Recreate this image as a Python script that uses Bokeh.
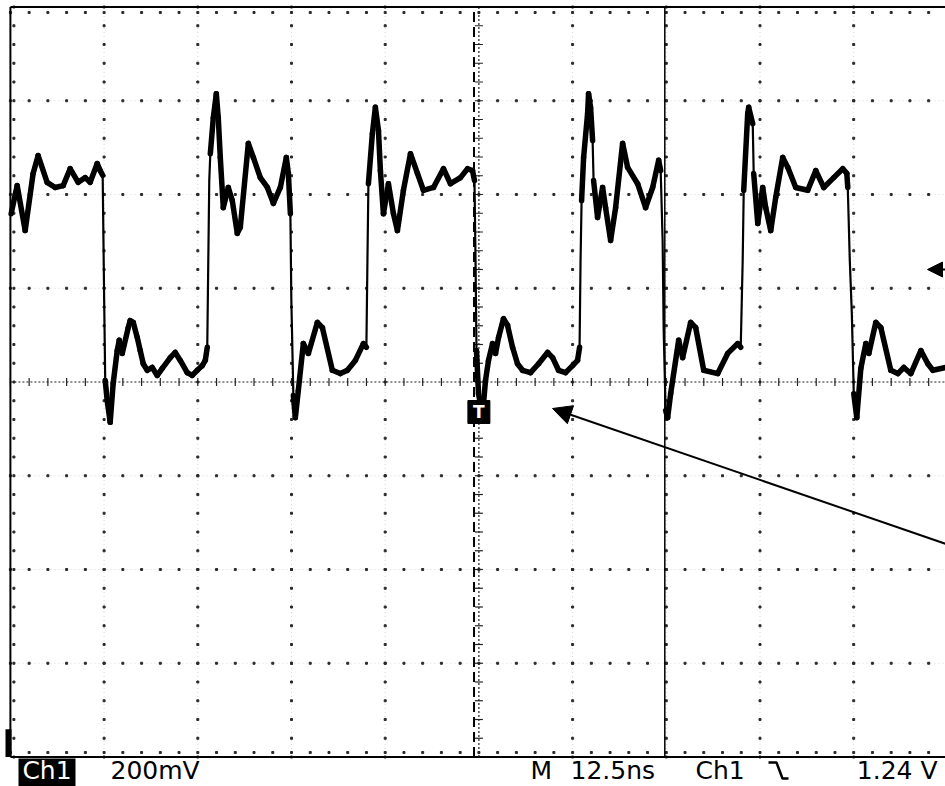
import numpy as np
from bokeh.plotting import figure
from bokeh.models import Range1d, Arrow, NormalHead, Label
from bokeh.embed import file_html
from bokeh.resources import INLINE

# ---------------- scope settings ----------------
T_PER_DIV = 12.5      # ns / div
V_PER_DIV = 0.2       # V / div
V_CENTER = 1.0        # V at centre graticule line
N_HDIV = 10
N_VDIV = 8
TRIG_LEVEL = 1.24     # V
CURSOR_T = 24.8       # ns, solid vertical cursor
TRIG_POS_T = -0.65    # ns, dashed trigger-position line
TRIG_MARK_V = 0.936   # V, trigger "T" marker
GROUND_MARK_V = (0.2, 0.259)

# ---------------- waveform (Ch1) ----------------
t_ns = [
    -62.40, -61.60, -60.53, -59.47, -58.80, -57.60, -56.53, -55.46, -54.53, -53.46,
    -52.52, -51.86, -50.92, -50.52, -50.19,
    -49.99, -49.85, -49.59, -49.19, -48.79, -48.25, -47.98, -47.58, -46.78, -46.52,
    -46.11, -45.58, -45.18, -44.78, -44.25, -43.58, -42.91, -42.24, -41.17, -40.51,
    -39.84, -38.91, -38.24, -37.57, -36.90, -36.50, -36.24,
    -36.10, -35.97, -35.83, -35.43, -35.03, -34.77, -34.50, -34.10, -33.43, -32.90,
    -32.23, -31.83, -30.76, -30.09, -29.16, -28.22, -27.42, -26.49, -25.69, -25.42,
    -25.15,
    -25.02, -24.75, -24.49, -24.09, -23.42, -22.75, -21.55, -20.88, -19.55, -18.48,
    -17.54, -16.48, -15.41, -15.01,
    -14.87, -14.74, -14.21, -13.81, -13.40, -13.14, -12.74, -12.07, -11.40, -10.87,
    -10.07, -9.13, -8.20, -7.40, -6.06, -4.73, -3.79, -2.46, -1.52, -0.85, -0.59,
    -0.45, -0.32, -0.05, 0.48, 0.88, 1.28, 1.82, 2.22, 2.62, 3.28, 3.82, 4.49, 5.15,
    5.82, 6.89, 7.96, 9.16, 9.83, 10.63, 11.56, 12.50, 13.16, 13.43,
    13.56, 13.70, 13.97, 14.50, 14.63, 14.90, 15.17, 15.30, 15.83, 16.50, 16.90,
    17.57, 18.24, 19.17, 19.84, 21.17, 22.24, 23.18, 23.98, 24.25, 24.51,
    24.65, 24.91, 25.18, 25.58, 26.65, 27.18, 28.25, 28.92, 29.99, 31.86, 33.19,
    34.53, 34.93,
    35.19, 35.33, 35.86, 35.99, 36.53, 36.66, 37.20, 37.86, 38.26, 38.93, 39.60,
    40.53, 41.20, 42.27, 43.87, 44.94, 46.01, 47.34, 48.54, 49.08, 49.21,
    49.48, 49.75, 50.01, 50.41, 50.95, 51.62, 52.02, 52.95, 53.62, 54.95, 55.89,
    56.69, 57.62, 58.96, 59.89, 60.56, 62.30,
]
v_volts = [
    1.359, 1.419, 1.323, 1.445, 1.483, 1.426, 1.415, 1.419, 1.455, 1.426,
    1.436, 1.426, 1.466, 1.451, 1.441,
    1.174, 1.003, 0.961, 0.914, 0.997, 1.067, 1.089, 1.061, 1.116, 1.131,
    1.127, 1.095, 1.067, 1.039, 1.025, 1.031, 1.014, 1.029, 1.052, 1.063,
    1.046, 1.020, 1.014, 1.025, 1.035, 1.046, 1.074,
    1.259, 1.430, 1.487, 1.564, 1.615, 1.564, 1.479, 1.372, 1.415, 1.387,
    1.317, 1.330, 1.509, 1.479, 1.436, 1.415, 1.381, 1.415, 1.479, 1.445,
    1.359,
    1.174, 0.971, 0.924, 0.982, 1.082, 1.061, 1.127, 1.116, 1.025, 1.018,
    1.025, 1.046, 1.082, 1.074,
    1.259, 1.423, 1.530, 1.586, 1.537, 1.451, 1.359, 1.423, 1.359, 1.323,
    1.409, 1.487, 1.445, 1.409, 1.415, 1.455, 1.423, 1.436, 1.455, 1.451, 1.430,
    1.259, 1.067, 0.975, 0.929, 1.003, 1.046, 1.082, 1.061, 1.095, 1.135, 1.121, 1.074, 1.039,
    1.025, 1.020, 1.039, 1.063, 1.052, 1.025, 1.020, 1.035, 1.046, 1.074,
    1.259, 1.387, 1.479, 1.573, 1.615, 1.586, 1.515, 1.430, 1.351, 1.415, 1.372,
    1.302, 1.372, 1.509, 1.458, 1.423, 1.372, 1.415, 1.473, 1.451, 1.302,
    1.110, 0.939, 0.924, 0.975, 1.089, 1.052, 1.127, 1.116, 1.025, 1.018, 1.061,
    1.082, 1.074,
    1.259, 1.409, 1.573, 1.586, 1.551, 1.445, 1.338, 1.415, 1.372, 1.323, 1.394,
    1.479, 1.458, 1.415, 1.409, 1.451, 1.415, 1.436, 1.455, 1.445, 1.415,
    1.259, 1.146, 0.975, 0.924, 1.029, 1.082, 1.061, 1.127, 1.116, 1.025, 1.018,
    1.031, 1.018, 1.067, 1.039, 1.025, 1.031,
]

# ---------------- readout texts ----------------
ch_label = "Ch1"
volts_label = f"{int(round(V_PER_DIV * 1000))}mV"
time_prefix = "M"
time_label = f"{T_PER_DIV}ns"
trig_src_label = "Ch1"
trig_level_label = f"{TRIG_LEVEL:.2f} V"

# ---------------- layout ----------------
W, H = 945, 786
PX_NS = 93.7 / T_PER_DIV          # pixels per ns
PX_V = 93.75 / V_PER_DIV          # pixels per volt
CX, CY = 478.4, 381.5             # centre of graticule inside the canvas

t0 = -CX / PX_NS
t1 = (W - CX) / PX_NS
v1 = V_CENTER + CY / PX_V
v0 = V_CENTER - (H - CY) / PX_V


def px2t(px):   # canvas x -> ns (annotation placement)
    return (px - CX) / PX_NS


def py2v(py):   # canvas y -> V (annotation placement)
    return V_CENTER + (CY - py) / PX_V


p = figure(width=W, height=H, output_backend="svg", toolbar_location=None,
           x_range=Range1d(t0, t1), y_range=Range1d(v0, v1),
           x_axis_type=None, y_axis_type=None, min_border=0,
           background_fill_color="white", border_fill_color="white")
p.outline_line_color = None
p.grid.visible = False

T_LEFT = -N_HDIV / 2 * T_PER_DIV
T_RIGHT = N_HDIV / 2 * T_PER_DIV
V_BOT = V_CENTER - N_VDIV / 2 * V_PER_DIV
V_TOP = V_CENTER + N_VDIV / 2 * V_PER_DIV

sub_t = np.arange(T_LEFT, T_RIGHT + 1e-9, T_PER_DIV / 5)
sub_v = np.arange(V_BOT, V_TOP + 1e-9, V_PER_DIV / 5)
major_t = np.arange(T_LEFT + T_PER_DIV, T_RIGHT - 1e-9, T_PER_DIV)
major_v = np.arange(V_BOT + V_PER_DIV, V_TOP - 1e-9, V_PER_DIV)

# faint dotted graticule lines
for tt in major_t:
    if abs(tt) > 1e-9:
        p.line([tt, tt], [V_BOT, V_TOP], line_color="#d8d8d8", line_width=1, line_dash="1 3")
for vv in major_v:
    if abs(vv - V_CENTER) > 1e-9:
        p.line([T_LEFT, T_RIGHT], [vv, vv], line_color="#d8d8d8", line_width=1, line_dash="1 3")

# graticule dots
gx, gy = [], []
for tt in major_t:
    if abs(tt) > 1e-9:
        gx += [tt] * len(sub_v)
        gy += list(sub_v)
for vv in major_v:
    if abs(vv - V_CENTER) > 1e-9:
        gx += list(sub_t)
        gy += [vv] * len(sub_t)
# border tick dots
gx += list(sub_t); gy += [V_TOP - 5.5 / PX_V] * len(sub_t)
gx += list(sub_t); gy += [V_BOT + 4.5 / PX_V] * len(sub_t)
gx += [T_LEFT + 3.5 / PX_NS] * len(sub_v); gy += list(sub_v)
p.scatter(gx, gy, marker="square", size=2, color="#2a2a2a")

# centre axes with ticks
p.line([T_LEFT, T_RIGHT], [V_CENTER, V_CENTER], line_color="#222222", line_width=1.2, line_dash="2 2")
p.line([0, 0], [V_BOT, V_TOP], line_color="#222222", line_width=1.2, line_dash="2 2")
dv = 4 / PX_V
dt = 4 / PX_NS
p.segment(x0=list(sub_t), y0=[V_CENTER - dv] * len(sub_t),
          x1=list(sub_t), y1=[V_CENTER + dv] * len(sub_t), line_color="#222222", line_width=1.2)
p.segment(x0=[-dt] * len(sub_v), y0=list(sub_v),
          x1=[dt] * len(sub_v), y1=list(sub_v), line_color="#222222", line_width=1.2)

# borders
p.line([T_LEFT, T_LEFT], [V_BOT, V_TOP], line_color="black", line_width=2)
p.line([T_LEFT, t1 + 5], [V_BOT, V_BOT], line_color="black", line_width=2)
p.line([T_LEFT, t1 + 5], [V_TOP, V_TOP], line_color="black", line_width=2)

# trigger position (dashed) and cursor (solid)
p.line([TRIG_POS_T, TRIG_POS_T], [V_BOT, V_TOP], line_color="black", line_width=2, line_dash="10 5")
p.line([CURSOR_T, CURSOR_T], [V_BOT, V_TOP], line_color="black", line_width=1.5)

# waveform: thin trace everywhere, thick persistence band on the slow parts
p.line(t_ns, v_volts, line_color="black", line_width=2.2, line_join="round")
ta, va = np.array(t_ns), np.array(v_volts)
slope = np.abs(np.diff(va) / np.diff(ta))
slow = slope < 0.4
p.segment(x0=ta[:-1][slow], y0=va[:-1][slow], x1=ta[1:][slow], y1=va[1:][slow],
          line_color="black", line_width=5.5, line_cap="round")

# ground marker of Ch1 (clamped at bottom)
p.quad(left=[px2t(5)], right=[px2t(11)], bottom=[GROUND_MARK_V[0]], top=[GROUND_MARK_V[1]],
       fill_color="black", line_color=None)

# trigger "T" marker
p.rect(x=[0], y=[TRIG_MARK_V], width=22, height=23, width_units="screen",
       height_units="screen", fill_color="black", line_color="black")
p.add_layout(Label(x=0, y=TRIG_MARK_V, text="T", text_align="center", text_baseline="middle",
                   text_color="white", text_font="DejaVu Sans", text_font_size="17px",
                   text_font_style="bold"))

# trigger level arrow (right side)
p.add_layout(Arrow(end=NormalHead(size=15, fill_color="black", line_color="black"),
                   x_start=px2t(950), y_start=TRIG_LEVEL, x_end=px2t(927), y_end=TRIG_LEVEL,
                   line_color="black", line_width=2))
# pointer arrow
p.add_layout(Arrow(end=NormalHead(size=19, fill_color="black", line_color="black"),
                   x_start=px2t(950), y_start=py2v(545), x_end=px2t(552), y_end=py2v(408),
                   line_color="black", line_width=2))

# readout
FONT = "DejaVu Sans"
FS = "25px"
mid_v = py2v(770)
p.quad(left=[px2t(18)], right=[px2t(75)], bottom=[py2v(790)], top=[py2v(758)],
       fill_color="black", line_color=None)
common = dict(y=mid_v, text_baseline="middle", text_font=FONT, text_font_size=FS)
p.add_layout(Label(x=px2t(46.5), text=ch_label, text_align="center", text_color="white", **common))
p.add_layout(Label(x=px2t(110), text=volts_label, text_align="left", text_color="black", **common))
p.add_layout(Label(x=px2t(530), text=time_prefix, text_align="left", text_color="black", **common))
p.add_layout(Label(x=px2t(570), text=time_label, text_align="left", text_color="black", **common))
p.add_layout(Label(x=px2t(695), text=trig_src_label, text_align="left", text_color="black", **common))
p.add_layout(Label(x=px2t(937), text=trig_level_label, text_align="right", text_color="black", **common))
# falling-edge slope symbol
p.line([px2t(768), px2t(776), px2t(782), px2t(788)],
       [py2v(762), py2v(762), py2v(778), py2v(778)], line_color="black", line_width=2.5)

open("out.html", "w").write(file_html(p, INLINE))
